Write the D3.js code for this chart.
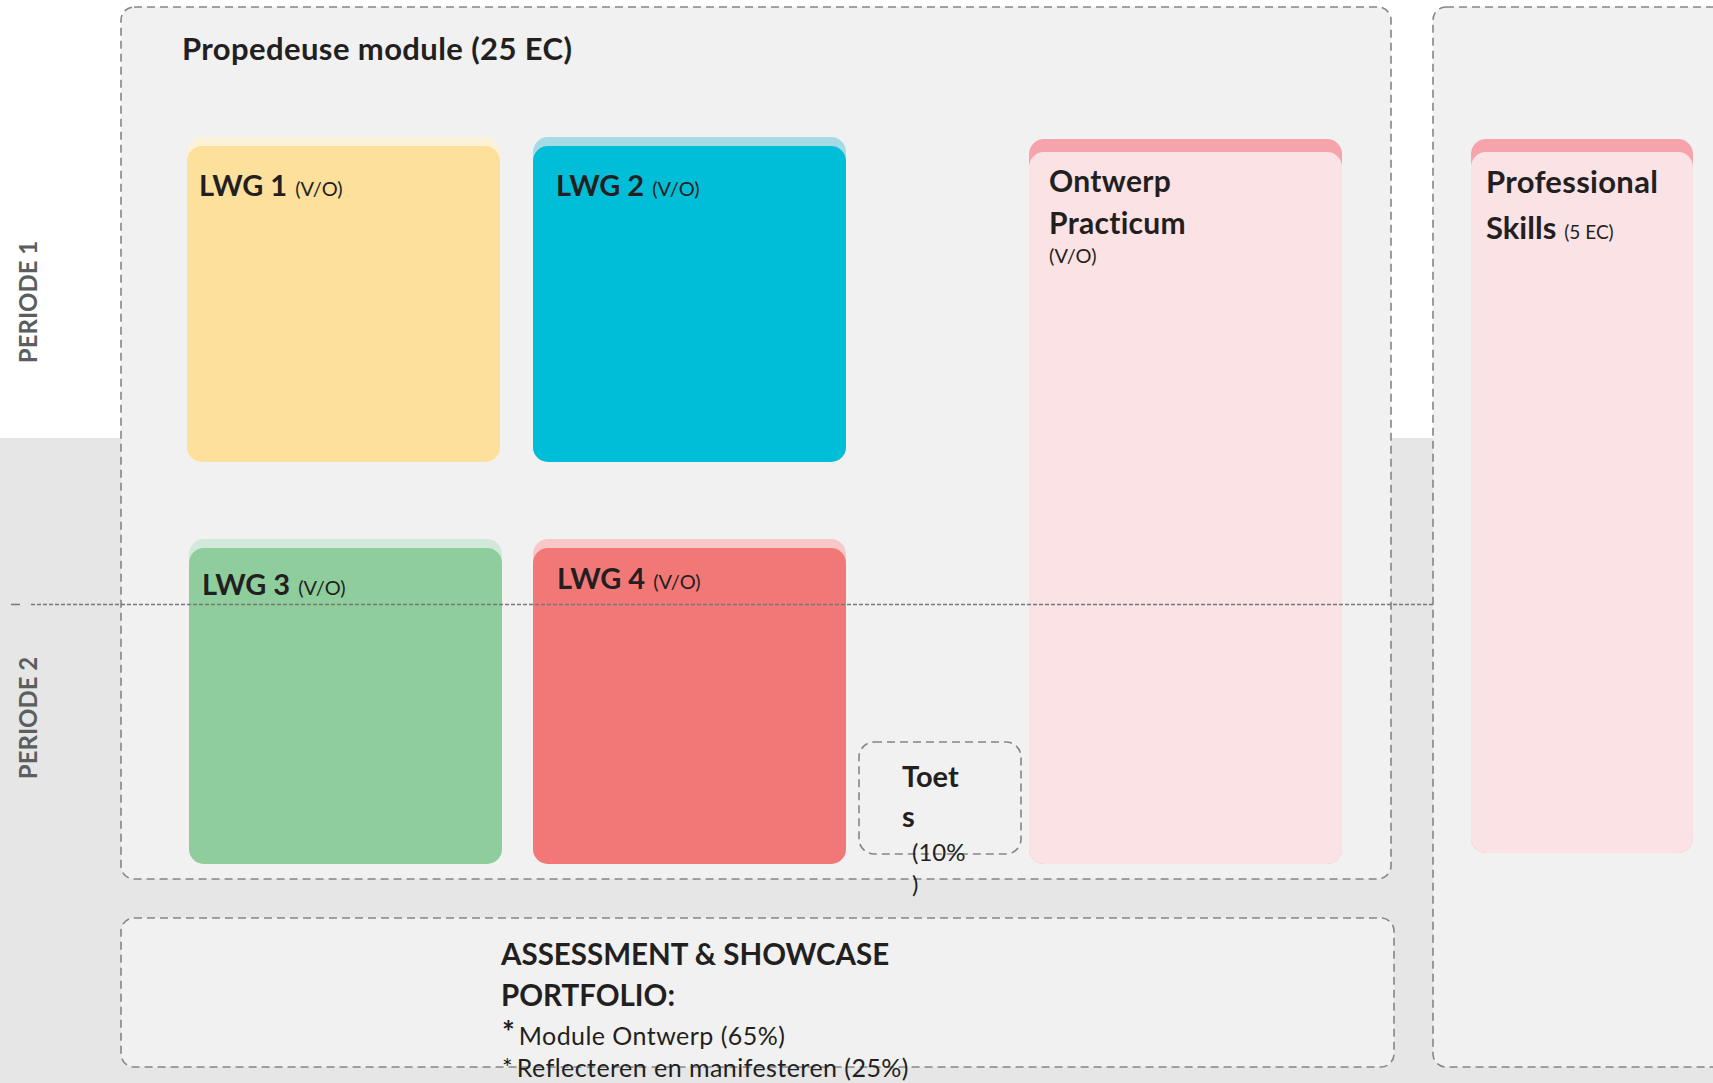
<!DOCTYPE html>
<html><head><meta charset="utf-8">
<script src="https://cdn.jsdelivr.net/npm/d3@7"></script>
<style>
body{margin:0;background:#fff;overflow:hidden}
svg{display:block}
text{font-family:Lato,"Open Sans",sans-serif;fill:#231f20}
</style>
</head><body>
<svg id="chart" width="1713" height="1083"></svg>
<script>
// ---- content (data) ----
const periodLabels = ["PERIODE 1", "PERIODE 2"];
const moduleTitle = "Propedeuse module (25 EC)";
const cardNames = ["LWG 1", "LWG 2", "LWG 3", "LWG 4", "Ontwerp Practicum", "Professional Skills"];
const cardNotes = ["(V/O)", "(V/O)", "(V/O)", "(V/O)", "(V/O)", "(5 EC)"];
const cardColumn = [0, 1, 0, 1, 2, 3];          // column index
const cardRow = ["p1", "p1", "p2", "p2", "full", "side"]; // vertical span
const toetsLines = ["Toet", "s", "(10%", ")"];
const assessTitle = ["ASSESSMENT & SHOWCASE", "PORTFOLIO:"];
const assessItems = ["Module Ontwerp (65%)", "Reflecteren en manifesteren (25%)"];

// ---- layout / style (separate from data) ----
const W = 1713, H = 1083;
const svg = d3.select("#chart");
const colX = d3.scaleOrdinal().domain([0,1,2,3]).range([187, 533, 1029, 1471]);
const colW = d3.scaleOrdinal().domain([0,1,2,3]).range([313, 313, 313, 222]);
const rowY = {
  p1:   {tab: 137, body: 146, bottom: 462},
  p2:   {tab: 539, body: 548, bottom: 864},
  full: {tab: 139, body: 152, bottom: 864},
  side: {tab: 139, body: 152, bottom: 853}
};
const rowShift = {p1: 0, p2: 2, full: 0, side: 0};
const bodyColors = ["#fce09c", "#00bed7", "#8fcd9d", "#f27878", "#fbe2e5", "#fbe2e5"];
const tabColors  = ["#fcf2da", "#a5dbe5", "#d2e9da", "#f8c8c8", "#f6a3ac", "#f6a3ac"];
const dashStroke = "#858585";

// background bands
svg.append("rect").attr("x",0).attr("y",0).attr("width",W).attr("height",438).attr("fill","#ffffff");
svg.append("rect").attr("x",0).attr("y",438).attr("width",W).attr("height",H-438).attr("fill","#e6e6e6");

function dashedBox(x,y,w,h,r){
  return svg.append("rect").attr("x",x).attr("y",y).attr("width",w).attr("height",h)
    .attr("rx",r).attr("ry",r).attr("fill","#f0f1f0")
    .attr("stroke",dashStroke).attr("stroke-width",1.6).attr("stroke-dasharray","8,5");
}
// containers
dashedBox(121, 7, 1270, 872, 13);
dashedBox(1433, 7, 320, 1060, 13);
dashedBox(121, 918, 1273, 149, 13);

// cards
const cards = cardNames.map((n,i)=>({name:n, note:cardNotes[i], col:cardColumn[i], row:cardRow[i], i}));
const cx = d => colX(d.col) + (d.col===0 ? rowShift[d.row] : 0);
const g = svg.append("g");
g.selectAll("rect.tab").data(cards).join("rect").attr("class","tab")
  .attr("x",cx).attr("y",d=>rowY[d.row].tab)
  .attr("width",d=>colW(d.col)).attr("height",d=>rowY[d.row].bottom-rowY[d.row].tab)
  .attr("rx",15).attr("fill",d=>tabColors[d.i]);
g.selectAll("rect.body").data(cards).join("rect").attr("class","body")
  .attr("x",cx).attr("y",d=>rowY[d.row].body)
  .attr("width",d=>colW(d.col)).attr("height",d=>rowY[d.row].bottom-rowY[d.row].body)
  .attr("rx",15).attr("fill",d=>bodyColors[d.i]);

// card labels
function label(x,y,bold,note,bsize,nsize){
  const t = svg.append("text").attr("x",x).attr("y",y);
  t.append("tspan").attr("font-weight",700).attr("font-size",bsize).text(bold);
  if(note) t.append("tspan").attr("font-size",nsize).attr("dx",8).text(note);
  return t;
}
const lwgPos = [[199,196],[556,196],[202,595],[557,589]];
cards.slice(0,4).forEach((d,k)=>label(lwgPos[k][0], lwgPos[k][1], d.name, d.note, 29, 20));
// Ontwerp Practicum
const op = cards[4].name.split(" ");
svg.append("text").attr("x",1049).attr("y",192).attr("font-weight",700).attr("font-size",30).attr("letter-spacing",0.3).text(op[0]);
svg.append("text").attr("x",1049).attr("y",234).attr("font-weight",700).attr("font-size",30).attr("letter-spacing",0.3).text(op[1]);
svg.append("text").attr("x",1049).attr("y",263).attr("font-size",20).text(cards[4].note);
// Professional Skills
const ps = cards[5].name.split(" ");
svg.append("text").attr("x",1486).attr("y",193).attr("font-weight",700).attr("font-size",31).attr("letter-spacing",0.3).text(ps[0]);
label(1486, 239, ps[1], cards[5].note, 31, 19);

// title
svg.append("text").attr("x",182).attr("y",60).attr("font-weight",700).attr("font-size",31).attr("letter-spacing",0.4).text(moduleTitle);

// Toets box
dashedBox(859, 742, 162, 112, 15);
const toetsY = [787, 827, 861, 893];
toetsLines.forEach((s,i)=>{
  svg.append("text").attr("x", i<2 ? 902 : 912).attr("y", toetsY[i])
    .attr("font-weight", i<2 ? 700 : 400).attr("font-size", i<2 ? 29 : 24).text(s);
});

// Assessment
assessTitle.forEach((s,i)=>{
  svg.append("text").attr("x",501).attr("y",[965,1006][i]).attr("font-weight",700).attr("font-size",29.5).text(s);
});
assessItems.forEach((s,i)=>{
  const t = svg.append("text").attr("x",502).attr("y",[1045,1077][i]);
  t.append("tspan").attr("font-size", i===0?30:25).attr("font-weight", i===0?700:400).attr("dy", i===0?-2:0).text("*");
  t.append("tspan").attr("font-size",25).attr("letter-spacing",0.45).attr("dx",4).attr("dy", i===0?2:0).text(s);
});

// period divider
svg.append("line").attr("x1",11).attr("x2",20).attr("y1",604.5).attr("y2",604.5)
  .attr("stroke","#777").attr("stroke-width",1.5);
svg.append("line").attr("x1",31).attr("x2",1433).attr("y1",604.5).attr("y2",604.5)
  .attr("stroke","#777").attr("stroke-width",1.5).attr("stroke-dasharray","4,2");

// period labels
const periodY = d3.scaleOrdinal().domain(periodLabels).range([302, 718]);
svg.selectAll("text.period").data(periodLabels).join("text").attr("class","period")
  .attr("transform",d=>`translate(37,${periodY(d)}) rotate(-90)`)
  .attr("text-anchor","middle").attr("font-weight",700).attr("font-size",24)
  .attr("letter-spacing",0).style("fill","#5b5e5e").text(d=>d);
</script>
</body></html>
